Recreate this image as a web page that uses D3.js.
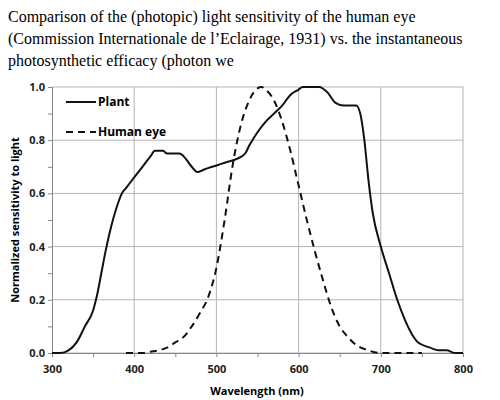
<!DOCTYPE html>
<html><head><meta charset="utf-8">
<script src="https://cdn.jsdelivr.net/npm/d3@7"></script>
<style>body{margin:0;background:#fff}</style>
</head><body>
<svg id="chart" width="500" height="400"></svg>
<script>
// plant photosynthetic efficacy
const plantWl = [300,310,320,330,340,350,355,360,365,370,375,380,385,390,400,410,420,425,435,440,455,460,470,477,485,495,505,515,525,535,540,550,560,570,580,590,600,605,625,635,645,655,670,675,680,685,690,700,710,720,730,740,745,760,770,780,790,800]
const plantVal = [0,0,0.01,0.04,0.1,0.16,0.22,0.3,0.38,0.45,0.51,0.56,0.6,0.62,0.66,0.7,0.74,0.76,0.76,0.75,0.75,0.74,0.7,0.68,0.69,0.7,0.71,0.72,0.73,0.75,0.78,0.83,0.87,0.9,0.93,0.97,0.99,1,1,0.98,0.94,0.93,0.93,0.9,0.8,0.65,0.53,0.4,0.3,0.2,0.12,0.06,0.04,0.02,0.01,0.01,0,0]
// human eye photopic sensitivity
const eyeWl = [390,410,420,430,440,450,460,470,480,490,500,510,520,530,540,550,555,560,570,580,590,600,610,620,630,640,650,660,670,680,690,700,750]
const eyeVal = [0,0,0.005,0.01,0.02,0.04,0.06,0.1,0.15,0.21,0.32,0.5,0.71,0.86,0.95,0.995,1,0.99,0.95,0.87,0.76,0.63,0.5,0.38,0.27,0.17,0.1,0.06,0.03,0.015,0.005,0,0]
const xTicks = [300,400,500,600,700,800]
const yTicks = [0,0.2,0.4,0.6,0.8,1.0]
const titleLines = ['Comparison of the (photopic) light sensitivity of the human eye',
  '(Commission Internationale de l\u2019Eclairage, 1931) vs. the instantaneous',
  'photosynthetic efficacy (photon we']

const svg = d3.select('#chart')
const x = d3.scaleLinear([300, 800], [52, 463])
const y = d3.scaleLinear([0, 1], [353, 87])
const sans = 'Open Sans, Lato, sans-serif'

svg.append('g').selectAll('text').data(titleLines).join('text')
   .attr('x', 8).attr('y', (d, i) => 22 + i * 22)
   .attr('font-family', 'Liberation Serif, Times New Roman, serif')
   .attr('font-size', 16).text(d => d)

// grid
const grid = svg.append('g').attr('stroke', '#b4b4b4').attr('stroke-width', 1)
yTicks.forEach(d => grid.append('line')
   .attr('x1', x(300)).attr('x2', x(800)).attr('y1', y(d)).attr('y2', y(d)))
xTicks.slice(1).forEach(d => grid.append('line')
   .attr('x1', x(d)).attr('x2', x(d)).attr('y1', y(0)).attr('y2', y(1)))

const xAxis = svg.append('g').attr('transform', `translate(0,${y(0)})`)
   .call(d3.axisBottom(x).tickValues(d3.range(300, 801, 50)).tickSize(4).tickFormat(d => d % 100 ? '' : d))
const yAxis = svg.append('g').attr('transform', `translate(${x(300)},0)`)
   .call(d3.axisLeft(y).tickValues(d3.range(0, 1.01, 0.1)).tickSize(4).tickFormat(d => Math.round(d * 10) % 2 ? '' : d.toFixed(1)))
for (const a of [xAxis, yAxis]) {
  a.selectAll('path, line').attr('stroke', '#888')
  a.selectAll('text').attr('font-family', sans).attr('font-weight', 'bold').attr('font-size', 11).attr('fill', '#222')
}
xAxis.selectAll('text').attr('dy', '1.2em')

const line = d3.line().x(d => x(d[0])).y(d => y(d[1])).curve(d3.curveMonotoneX)
svg.append('path').attr('d', line(d3.zip(plantWl, plantVal)))
   .attr('fill', 'none').attr('stroke', '#111').attr('stroke-width', 2)
svg.append('path').attr('d', line(d3.zip(eyeWl, eyeVal)))
   .attr('fill', 'none').attr('stroke', '#111').attr('stroke-width', 2).attr('stroke-dasharray', '7,5')

// legend
const legend = [['Plant', null, 102], ['Human eye', '7,5', 132]]
for (const [name, dash, ly] of legend) {
  svg.append('line').attr('x1', 66).attr('x2', 96).attr('y1', ly).attr('y2', ly)
     .attr('stroke', '#111').attr('stroke-width', 2).attr('stroke-dasharray', dash)
  svg.append('text').attr('x', 98).attr('y', ly + 4).text(name)
     .attr('font-family', sans).attr('font-weight', 'bold').attr('font-size', 12)
}

svg.append('text').attr('x', 257).attr('y', 395).attr('text-anchor', 'middle')
   .attr('font-family', sans).attr('font-weight', 'bold').attr('font-size', 11).text('Wavelength (nm)')
svg.append('text').attr('transform', `translate(19,${y(0.5)}) rotate(-90)`).attr('text-anchor', 'middle')
   .attr('font-family', sans).attr('font-weight', 'bold').attr('font-size', 11).text('Normalized sensitivity to light')
</script>
</body></html>
